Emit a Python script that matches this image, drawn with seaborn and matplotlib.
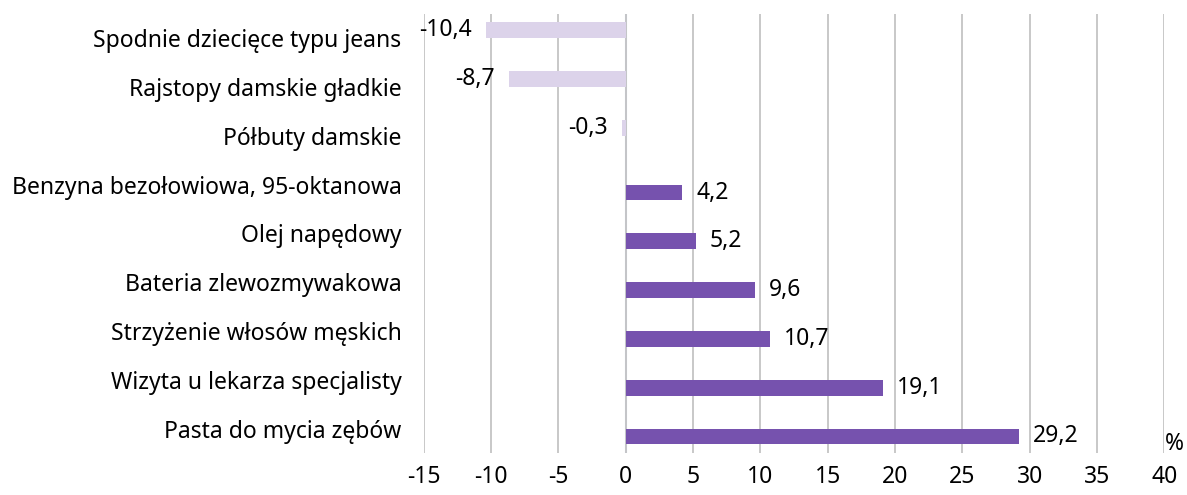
import pandas as pd
import seaborn as sns
import matplotlib.pyplot as plt

# Chart data (percent change)
CATEGORIES = [
    "Spodnie dziecięce typu jeans",
    "Rajstopy damskie gładkie",
    "Półbuty damskie",
    "Benzyna bezołowiowa, 95-oktanowa",
    "Olej napędowy",
    "Bateria zlewozmywakowa",
    "Strzyżenie włosów męskich",
    "Wizyta u lekarza specjalisty",
    "Pasta do mycia zębów",
]
VALUES = [-10.4, -8.7, -0.3, 4.2, 5.2, 9.6, 10.7, 19.1, 29.2]
X_TICKS = [-15, -10, -5, 0, 5, 10, 15, 20, 25, 30, 35, 40]

NEG_COLOR = "#DCD3EA"
POS_COLOR = "#7652AE"
FS = 16.5


def build_frame():
    """One row per category, split into a 'down' and an 'up' series."""
    df = pd.DataFrame({"category": CATEGORIES, "value": VALUES})
    df["series"] = ["down" if v < 0 else "up" for v in VALUES]
    return df


def main():
    df = build_frame()

    sns.set_style("white")
    plt.rcParams["font.family"] = ["Noto Sans", "DejaVu Sans"]
    plt.rcParams["text.color"] = "black"
    plt.rcParams["xtick.color"] = "black"
    plt.rcParams["ytick.color"] = "black"

    fig = plt.figure(figsize=(11.87, 4.95), dpi=100)
    ax = fig.add_axes([0.357, 0.085, 0.624, 0.887])

    sns.barplot(data=df, x="value", y="category", hue="series",
                hue_order=["down", "up"], order=CATEGORIES,
                palette={"down": NEG_COLOR, "up": POS_COLOR},
                orient="h", width=0.65, dodge=True, legend=False,
                saturation=1, linewidth=0, ax=ax)

    # value labels with decimal comma
    for container in ax.containers:
        labels = [f"{v:.1f}".replace(".", ",") if v == v else "" for v in container.datavalues]
        ax.bar_label(container, labels=labels, padding=10, fontsize=FS)

    ax.set_xlim(-15, 40)
    ax.set_xticks(X_TICKS)
    ax.set_xticklabels([str(t) for t in X_TICKS], fontsize=FS)
    ax.tick_params(axis="x", length=0, pad=9)
    ax.tick_params(axis="y", length=0, pad=16, labelsize=FS)
    ax.set_xlabel("")
    ax.set_ylabel("")

    ax.grid(axis="x", color="#C4C4C4", linewidth=1.3)
    ax.grid(axis="y", visible=False)
    ax.set_axisbelow(True)
    for s in ax.spines.values():
        s.set_visible(False)
    ax.axvline(0, color="#C9D8EE", linewidth=1.5, zorder=0.5)

    ax.text(1.0, -0.008, "%", transform=ax.transAxes, fontsize=FS,
            ha="left", va="bottom")

    fig.savefig("out.png", dpi=100)


if __name__ == "__main__":
    main()
